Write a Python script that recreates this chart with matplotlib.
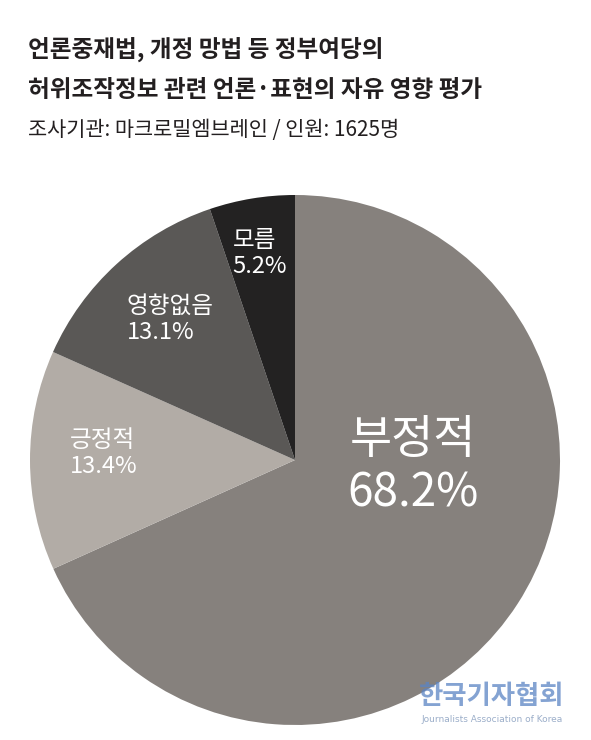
import numpy as np
import matplotlib
matplotlib.use("Agg")
import matplotlib.pyplot as plt

plt.rcParams['font.family'] = ['Noto Sans CJK KR', 'DejaVu Sans']

# Data
categories = ['부정적', '긍정적', '영향없음', '모름']
values = [68.2, 13.4, 13.1, 5.2]
colors = ['#86817d', '#b2aca6', '#5a5856', '#232222']

title_lines = ['언론중재법, 개정 망법 등 정부여당의', '허위조작정보 관련 언론·표현의 자유 영향 평가']
subtitle = '조사기관: 마크로밀엠브레인 / 인원: 1625명'

# label anchor positions in pie data units (radius = 1)
label_pos = [(0.445, -0.025), (-0.85, 0.025), (-0.635, 0.53), (-0.235, 0.78)]
label_ha = ['center', 'left', 'left', 'left']
label_size = [33, 17, 17, 17]

W, H = 591, 740
fig = plt.figure(figsize=(W / 100, H / 100), dpi=100)
fig.patch.set_facecolor('white')

# pie centre (295, 460) px, radius 265 px
cx, cy, r = 295, 460, 265
ax = fig.add_axes([(cx - r) / W, (H - cy - r) / H, 2 * r / W, 2 * r / H])
wedges, _ = ax.pie(values, colors=colors, startangle=90, counterclock=False,
                   radius=1, wedgeprops=dict(linewidth=0))
ax.set_xlim(-1, 1)
ax.set_ylim(-1, 1)
ax.set_aspect('equal')
ax.axis('off')

for cat, val, (x, y), ha, fs in zip(categories, values, label_pos, label_ha, label_size):
    ax.text(x, y, f'{cat}\n{val:.1f}%', ha=ha, va='center', color='white',
            fontsize=fs, fontweight='medium', linespacing=1.15)

# titles
fig.text(28 / W, 1 - 50 / H, title_lines[0], fontsize=17, fontweight='bold',
         color='#231f20', va='center', ha='left')
fig.text(28 / W, 1 - 90 / H, title_lines[1], fontsize=17, fontweight='bold',
         color='#231f20', va='center', ha='left')
fig.text(28 / W, 1 - 130 / H, subtitle, fontsize=15, color='#231f20',
         va='center', ha='left')

# watermark
fig.text(492 / W, 1 - 697 / H, '한국기자협회', fontsize=19, fontweight='bold',
         color='#5b84c4', alpha=0.75, ha='center', va='center')
fig.text(492 / W, 1 - 719 / H, 'Journalists Association of Korea', fontsize=6.5,
         color='#8aa0c0', alpha=0.85, ha='center', va='center', family=['DejaVu Sans'])

fig.savefig('out.png', dpi=100, facecolor='white')
